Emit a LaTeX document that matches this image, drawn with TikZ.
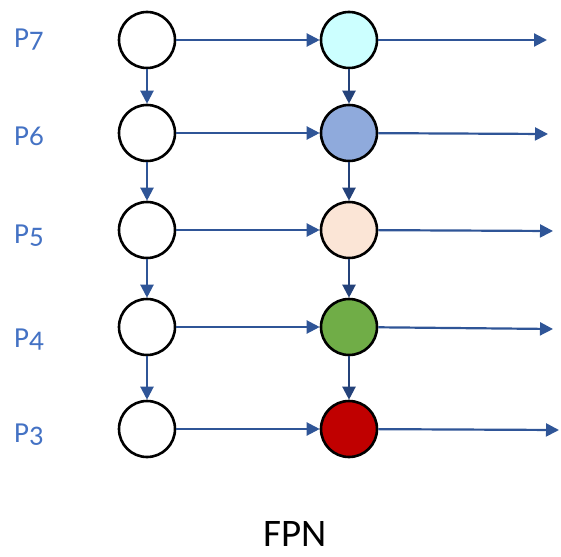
\documentclass[tikz,border=0pt]{standalone}
\usepackage{fontspec}
\setmainfont{Carlito}[Numbers=OldStyle]
\usetikzlibrary{arrows.meta}
\definecolor{arrowblue}{HTML}{2F5597}
\definecolor{darkarrow}{HTML}{24427A}
\definecolor{labelblue}{HTML}{4472C4}
\definecolor{fcyan}{HTML}{CCFFFF}
\definecolor{fblue}{HTML}{8FAADC}
\definecolor{fpeach}{HTML}{FBE5D6}
\definecolor{fgreen}{HTML}{70AD47}
\definecolor{fred}{HTML}{C00000}
\tikzset{
  level/.style={circle, draw=black, line width=2.6pt, minimum size=56pt, inner sep=0pt},
  flow/.style={draw=arrowblue, line width=2.2pt, -{Triangle[length=13pt,width=13pt]}},
  down/.style={flow, draw=darkarrow},
  plabel/.style={text=labelblue, font=\fontsize{29pt}{34pt}\selectfont, anchor=west, inner sep=0pt},
}
\begin{document}
\begin{tikzpicture}[x=1pt,y=-1pt]
  \useasboundingbox (0,0) rectangle (561,556);
  % backbone column
  \node[level] (l7) at (147,40) {};
  \node[level] (l6) at (147,133) {};
  \node[level] (l5) at (147,230) {};
  \node[level] (l4) at (147,327) {};
  \node[level] (l3) at (147,429) {};
  % pyramid column
  \node[level, fill=fcyan]  (r7) at (349,40) {};
  \node[level, fill=fblue]  (r6) at (349,133) {};
  \node[level, fill=fpeach] (r5) at (349,230) {};
  \node[level, fill=fgreen] (r4) at (349,327) {};
  \node[level, fill=fred]   (r3) at (349,429) {};
  % outputs
  \coordinate (o7) at (547,40);
  \coordinate (o6) at (548,134);
  \coordinate (o5) at (553,231);
  \coordinate (o4) at (553,329);
  \coordinate (o3) at (559,430);
  % level labels
  \node[plabel] (p7) at (14,40)  {P7};
  \node[plabel] (p6) at (14,136) {P6};
  \node[plabel] (p5) at (14,236) {P5};
  \node[plabel] (p4) at (14,340) {P4};
  \node[plabel] (p3) at (14,435) {P3};
  % lateral connections
  \foreach \i in {7,6,5,4,3} {
    \draw[flow] (l\i) -- (r\i);
    \draw[flow] (r\i) -- (o\i);
  }
  % top-down paths
  \draw[flow] (l7) -- (l6);
  \draw[flow] (l6) -- (l5);
  \draw[flow] (l5) -- (l4);
  \draw[flow] (l4) -- (l3);
  \draw[down] (r7) -- (r6);
  \draw[down] (r6) -- (r5);
  \draw[down] (r5) -- (r4);
  \draw[down] (r4) -- (r3);
  \node[font=\fontsize{39pt}{44pt}\selectfont, anchor=base, inner sep=0pt] (title) at (295,546) {FPN};
\end{tikzpicture}
\end{document}
